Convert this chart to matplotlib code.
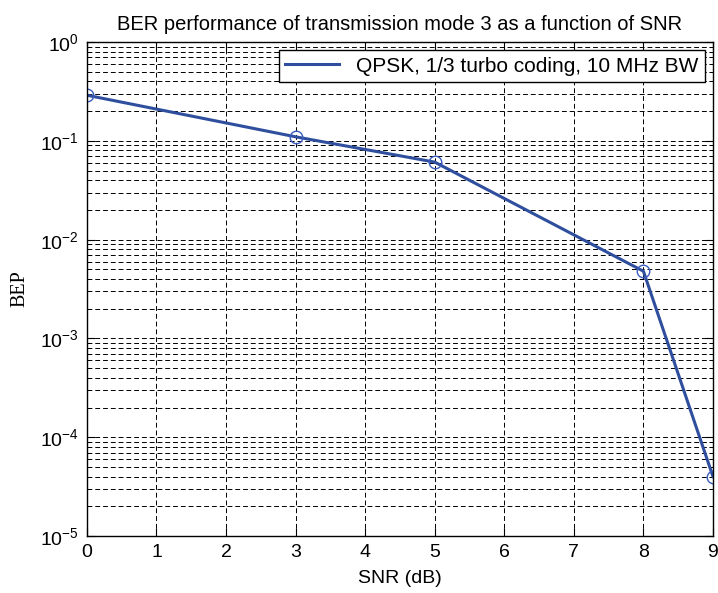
import numpy as np
import matplotlib
matplotlib.use("Agg")
import matplotlib.pyplot as plt
from matplotlib.lines import Line2D
from matplotlib.ticker import LogLocator, NullFormatter

plt.rcParams["font.family"] = ["Liberation Sans", "DejaVu Sans"]

snr_db = [0, 3, 5, 8, 9]
bep = [0.29, 0.11, 0.061, 0.0048, 4.0e-5]
series_label = "QPSK, 1/3 turbo coding, 10 MHz BW"
x_ticks = list(range(0, 10))

line_color = "#2f4f9e"

fig = plt.figure(figsize=(7.18, 5.93), dpi=100)
ax = fig.add_axes([0.121, 0.096, 0.872, 0.833])

ax.semilogy(snr_db, bep, color=line_color, lw=2.2, marker="o", ms=9,
            mfc="none", mec="#3a5cc0", mew=1.0)

ax.set_xlim(0, 9)
ax.set_ylim(1e-5, 1)
ax.set_xticks(x_ticks)
ax.yaxis.set_major_locator(LogLocator(base=10, numticks=10))
ax.yaxis.set_minor_locator(LogLocator(base=10, subs=np.arange(2, 10), numticks=20))
ax.yaxis.set_minor_formatter(NullFormatter())

ax.grid(True, which="major", axis="both", color="black", ls=(0, (5, 3)), lw=0.7)
ax.grid(True, which="minor", axis="y", color="black", ls=(0, (5, 3)), lw=0.7)
ax.tick_params(which="both", direction="in", top=True, right=True, labelsize=14)
ax.tick_params(which="major", length=6, pad=6)
ax.tick_params(which="minor", length=3)
for s in ax.spines.values():
    s.set_linewidth(1.0)

ax.set_title("BER performance of transmission mode 3 as a function of SNR",
             fontsize=14.5, pad=9)
ax.set_xlabel("SNR (dB)", fontsize=14, labelpad=6)
ax.set_ylabel("BEP", fontsize=14.5, family=["Liberation Serif", "DejaVu Serif"], labelpad=7)

# legend shows the line only, no marker
handle = Line2D([], [], color=line_color, lw=2.2)
leg = ax.legend([handle], [series_label], loc="upper right", fontsize=15,
                fancybox=False, framealpha=1, edgecolor="black",
                borderaxespad=0.4, handlelength=2.6, borderpad=0.3)
leg.get_frame().set_linewidth(1.0)

fig.savefig("out.png", dpi=100)
